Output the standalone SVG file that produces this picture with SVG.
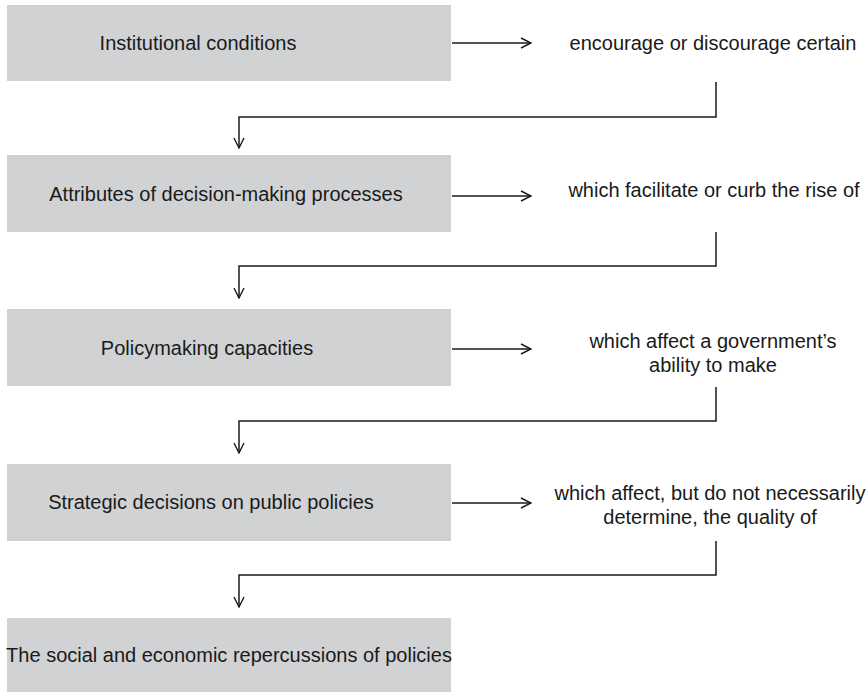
<svg xmlns="http://www.w3.org/2000/svg" width="868" height="692" viewBox="0 0 868 692">
  <style>
    .box { fill: #d1d2d4; }
    .t { font-family: "Liberation Sans", Arial, sans-serif; font-size: 20px; fill: #1a1a1a; text-anchor: middle; }
    .ln { fill: none; stroke: #1a1a1a; stroke-width: 1.5; }
  </style>
  <defs>
    <marker id="ah" viewBox="0 0 12 12" refX="11" refY="6" markerWidth="12" markerHeight="12" markerUnits="userSpaceOnUse" orient="auto">
      <path d="M1,1 L11,6 L1,11" fill="none" stroke="#1a1a1a" stroke-width="1.4"/>
    </marker>
  </defs>
  <rect width="868" height="692" fill="#ffffff"/>

  <g id="node1">
    <rect class="box" x="7" y="5" width="444" height="76"/>
    <text class="t" x="198" y="50">Institutional conditions</text>
  </g>
  <g id="label1">
    <text class="t" x="713" y="50">encourage or discourage certain</text>
  </g>

  <g id="node2">
    <rect class="box" x="7" y="155" width="444" height="77"/>
    <text class="t" x="226" y="201">Attributes of decision-making processes</text>
  </g>
  <g id="label2">
    <text class="t" x="714" y="197">which facilitate or curb the rise of</text>
  </g>

  <g id="node3">
    <rect class="box" x="7" y="309" width="444" height="77"/>
    <text class="t" x="207" y="355">Policymaking capacities</text>
  </g>
  <g id="label3">
    <text class="t" x="713" y="348">which affect a government’s</text>
    <text class="t" x="713" y="372">ability to make</text>
  </g>

  <g id="node4">
    <rect class="box" x="7" y="464" width="444" height="77"/>
    <text class="t" x="211" y="509">Strategic decisions on public policies</text>
  </g>
  <g id="label4">
    <text class="t" x="710" y="500">which affect, but do not necessarily</text>
    <text class="t" x="710" y="524">determine, the quality of</text>
  </g>

  <g id="node5">
    <rect class="box" x="7" y="618" width="444" height="74"/>
    <text class="t" x="229" y="662">The social and economic repercussions of policies</text>
  </g>

  <g id="connectors">
    <line class="ln" x1="452" y1="43" x2="531" y2="43" marker-end="url(#ah)"/>
    <line class="ln" x1="452" y1="196" x2="531" y2="196" marker-end="url(#ah)"/>
    <line class="ln" x1="452" y1="349" x2="531" y2="349" marker-end="url(#ah)"/>
    <line class="ln" x1="452" y1="503" x2="531" y2="503" marker-end="url(#ah)"/>
    <polyline class="ln" points="716,82 716,117 239,117 239,148" marker-end="url(#ah)"/>
    <polyline class="ln" points="716,232 716,266 239,266 239,298" marker-end="url(#ah)"/>
    <polyline class="ln" points="716,387 716,421 239,421 239,453" marker-end="url(#ah)"/>
    <polyline class="ln" points="716,541 716,575 239,575 239,607" marker-end="url(#ah)"/>
  </g>
</svg>
